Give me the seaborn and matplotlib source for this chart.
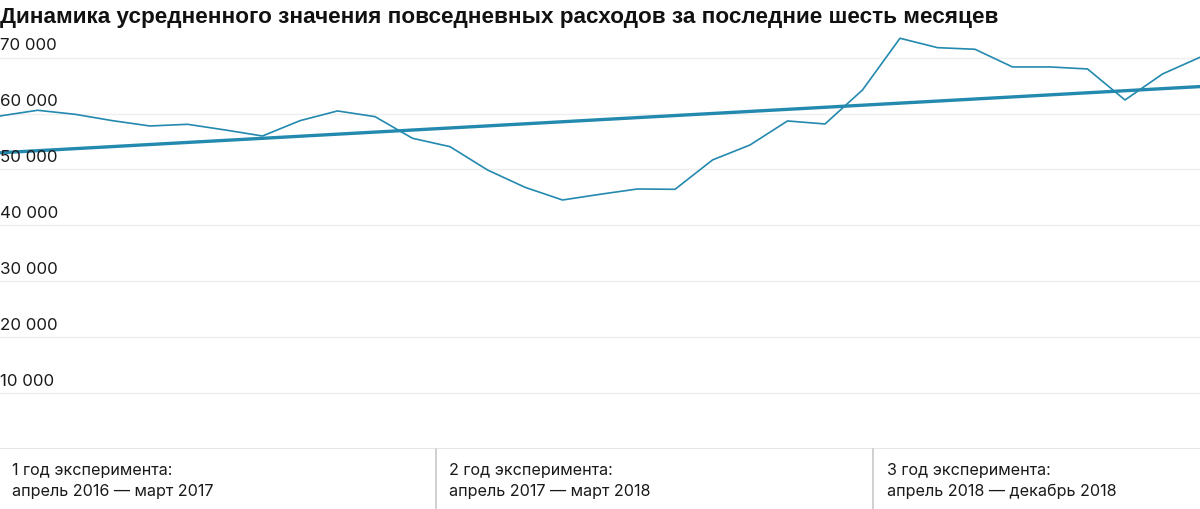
import pandas as pd
import matplotlib.pyplot as plt
import matplotlib.transforms as mtransforms
import seaborn as sns

# усредненные повседневные расходы за последние шесть месяцев, апрель 2016 - декабрь 2018
months = pd.date_range("2016-04-01", "2018-12-01", freq="MS")
spending = [59570, 60590, 59870, 58730, 57780, 58080, 57070, 55990, 58730, 60470,
            59450, 55580, 54080, 49910, 46810, 44540, 45560, 46510, 46450, 51700,
            54380, 58680, 58140, 64220, 73470, 71790, 71500, 68340, 68340, 67980,
            62430, 67080, 70070]
y_ticks = [10000, 20000, 30000, 40000, 50000, 60000, 70000]
y_labels = ["10 000", "20 000", "30 000", "40 000", "50 000", "60 000", "70 000"]
periods = ["1 год эксперимента:\nапрель 2016 — март 2017",
           "2 год эксперимента:\nапрель 2017 — март 2018",
           "3 год эксперимента:\nапрель 2018 — декабрь 2018"]
title = "Динамика усредненного значения повседневных расходов за последние шесть месяцев"

df = pd.DataFrame({"month": months, "value": spending})
df["n"] = range(len(df))

sns.set_style("white")
plt.rcParams["font.family"] = ["Inter", "DejaVu Sans"]

color = "#2389ae"
fig = plt.figure(figsize=(12, 5.09), dpi=100)
ax = fig.add_axes([0, 60 / 509, 1, (449 - 35.3) / 509])

sns.lineplot(data=df, x="n", y="value", color=color, linewidth=1.2, ax=ax)
sns.regplot(data=df, x="n", y="value", ci=None, scatter=False, truncate=True,
            line_kws={"color": color, "linewidth": 2.4}, ax=ax)

ax.set_xlim(0, len(df) - 1)
ax.set_ylim(0, 74000)
for t in y_ticks:
    ax.axhline(t, color="#efefef", linewidth=1, zorder=0)
ax.axhline(0, color="#e2e2e2", linewidth=1.2, zorder=0)

off = mtransforms.offset_copy(ax.get_yaxis_transform(), fig=fig, x=0, y=12, units="dots")
for t, lab in zip(y_ticks, y_labels):
    ax.text(0.0, t, lab, transform=off, ha="left", va="center",
            fontsize=12.2, color="#1a1a1a")

ax.set_xticks([])
ax.set_yticks([])
ax.set_xlabel("")
ax.set_ylabel("")
sns.despine(ax=ax, left=True, bottom=True)

fig.text(0.0, 1 - 18 / 509, title, ha="left", va="center", fontsize=16.2,
         fontweight="bold", family=["Liberation Sans", "DejaVu Sans"], color="#111111")

# колонки с периодами под графиком
sep_x = [436, 873]
for sx in sep_x:
    fig.add_artist(plt.Line2D([sx / 1200, sx / 1200], [0, 60 / 509], color="#c8c8c8", linewidth=1.2))
text_x = [12, 449, 887]
for tx, p in zip(text_x, periods):
    fig.text(tx / 1200, 1 - 481 / 509, p, ha="left", va="center", fontsize=11.6,
             color="#1a1a1a", linespacing=1.45)

fig.savefig("out.png", dpi=100, facecolor="white")
